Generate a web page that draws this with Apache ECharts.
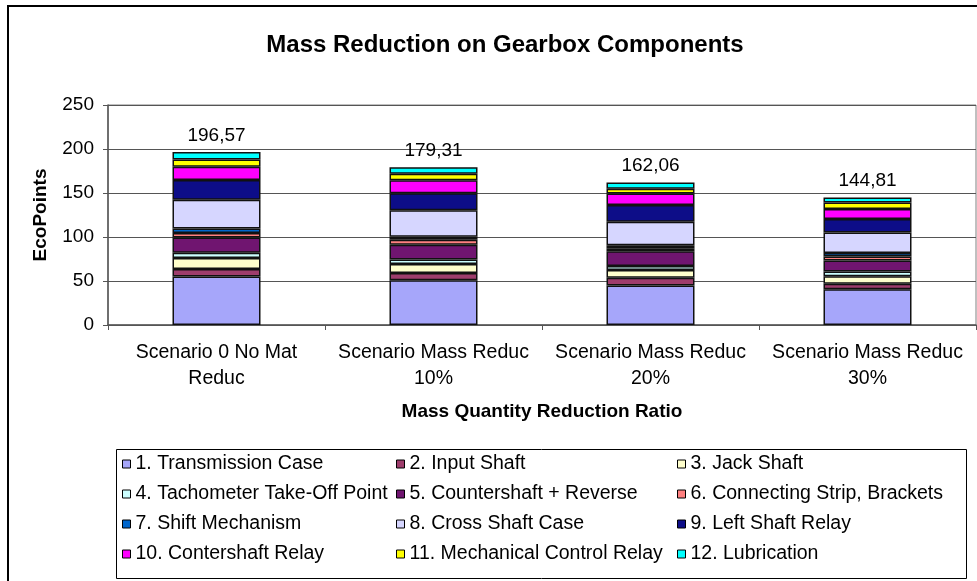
<!DOCTYPE html>
<html>
<head>
<meta charset="utf-8">
<script src="https://cdn.jsdelivr.net/npm/echarts@6/dist/echarts.min.js"></script>
<style>
  html, body { margin: 0; padding: 0; background: #fff; }
  #main { width: 977px; height: 581px; }
</style>
</head>
<body>
<div id="main"></div>
<script>
var categories = ['Scenario 0 No Mat\nReduc', 'Scenario Mass Reduc\n10%', 'Scenario Mass Reduc\n20%', 'Scenario Mass Reduc\n30%'];
var totals = [196.57, 179.31, 162.06, 144.81];

var names = [
    '1. Transmission Case', '2. Input Shaft', '3. Jack Shaft',
    '4. Tachometer Take-Off Point', '5. Countershaft + Reverse', '6. Connecting Strip, Brackets',
    '7. Shift Mechanism', '8. Cross Shaft Case', '9. Left Shaft Relay',
    '10. Contershaft Relay', '11. Mechanical Control Relay', '12. Lubrication'
];
var colors = ['#a6a6fa', '#9e3d6c', '#ffffcc', '#ccffff', '#701570', '#ff8080',
              '#0066cc', '#d6d6ff', '#0d0d88', '#ff00ff', '#ffff00', '#00ffff'];

// one array per component, values per scenario
var transmissionCase = [55.2, 50.8, 45.0, 40.5];
var inputShaft       = [8.4, 8.3, 8.8, 6.5];
var jackShaft        = [12.5, 10.2, 8.7, 8.3];
var tachometer       = [6.0, 5.0, 4.5, 5.4];
var countershaft     = [17.4, 17.0, 16.8, 12.5];
var connectingStrip  = [5.0, 5.6, 3.4, 4.5];
var shiftMechanism   = [5.3, 3.4, 3.4, 4.1];
var crossShaftCase   = [32.5, 30.0, 26.6, 23.2];
var leftShaftRelay   = [22.4, 19.3, 19.3, 15.5];
var contershaftRelay = [15.2, 14.8, 12.9, 11.4];
var mechControlRelay = [8.2, 7.5, 5.3, 7.2];
var lubrication      = [8.47, 7.41, 7.36, 5.71];

var values = [transmissionCase, inputShaft, jackShaft, tachometer, countershaft, connectingStrip,
              shiftMechanism, crossShaftCase, leftShaftRelay, contershaftRelay, mechControlRelay, lubrication];

var font = 'Liberation Sans, Arial, sans-serif';

var series = names.map(function(n, i){
    var s = {
        name: n,
        type: 'bar',
        stack: 'total',
        barWidth: 88,
        itemStyle: {
            color: colors[i],
            borderColor: '#111',
            borderWidth: 1.5
        },
        data: values[i]
    };
    if (i === names.length - 1) {
        s.label = {
            show: true,
            position: 'top',
            distance: 7,
            color: '#000',
            fontFamily: font,
            fontSize: 19,
            formatter: function(p){
                return totals[p.dataIndex].toFixed(2).replace('.', ',');
            }
        };
    }
    return s;
});

function legendCol(idx, left) {
    return {
        orient: 'vertical',
        left: left,
        top: 454,
        padding: 0,
        itemGap: 10,
        itemWidth: 8,
        itemHeight: 8,
        icon: 'rect',
        selectedMode: false,
        itemStyle: { borderColor: '#000', borderWidth: 1 },
        textStyle: { fontFamily: font, fontSize: 19.5, lineHeight: 20, color: '#000' },
        data: idx.map(function(k){ return names[k]; })
    };
}

var option = {
    animation: false,
    backgroundColor: '#fff',
    title: {
        text: 'Mass Reduction on Gearbox Components',
        left: 500,
        top: 28,
        textAlign: 'center',
        textStyle: { fontFamily: font, fontSize: 24, fontWeight: 'bold', color: '#000' }
    },
    legend: [
        legendCol([0, 3, 6, 9], 122),
        legendCol([1, 4, 7, 10], 396),
        legendCol([2, 5, 8, 11], 677)
    ],
    graphic: [
        { type: 'rect', shape: { x: 8, y: 6, width: 990, height: 600 },
          style: { fill: null, stroke: '#000', lineWidth: 2 }, silent: true },
        { type: 'rect', shape: { x: 116.5, y: 449.5, width: 850, height: 129 },
          style: { fill: null, stroke: '#000', lineWidth: 1 }, silent: true }
    ],
    grid: {
        show: true,
        left: 108,
        right: 1,
        top: 105,
        bottom: 256,
        borderColor: '#808080',
        borderWidth: 1
    },
    xAxis: {
        type: 'category',
        data: categories,
        name: 'Mass Quantity Reduction Ratio',
        nameLocation: 'middle',
        nameGap: 77,
        nameTextStyle: { fontFamily: font, fontSize: 19, fontWeight: 'bold', color: '#000' },
        axisLine: { lineStyle: { color: '#555', width: 1.5 } },
        axisTick: { show: true, length: 5, interval: 0, lineStyle: { color: '#555' } },
        axisLabel: {
            interval: 0,
            margin: 15,
            fontFamily: font,
            fontSize: 19.5,
            lineHeight: 26,
            color: '#000'
        },
        splitLine: { show: false }
    },
    yAxis: {
        type: 'value',
        min: 0,
        max: 250,
        interval: 50,
        name: 'EcoPoints',
        nameLocation: 'middle',
        nameGap: 58,
        nameTextStyle: { fontFamily: font, fontSize: 19, fontWeight: 'bold', color: '#000' },
        axisLine: { show: true, lineStyle: { color: '#555', width: 1.5 } },
        axisTick: { show: true, length: 5, lineStyle: { color: '#555' } },
        axisLabel: { margin: 14, fontFamily: font, fontSize: 19, color: '#000' },
        splitLine: { lineStyle: { color: '#555', width: 1 } }
    },
    series: series
};

var myChart = echarts.init(document.getElementById('main'));
myChart.setOption(option);
</script>
</body>
</html>
